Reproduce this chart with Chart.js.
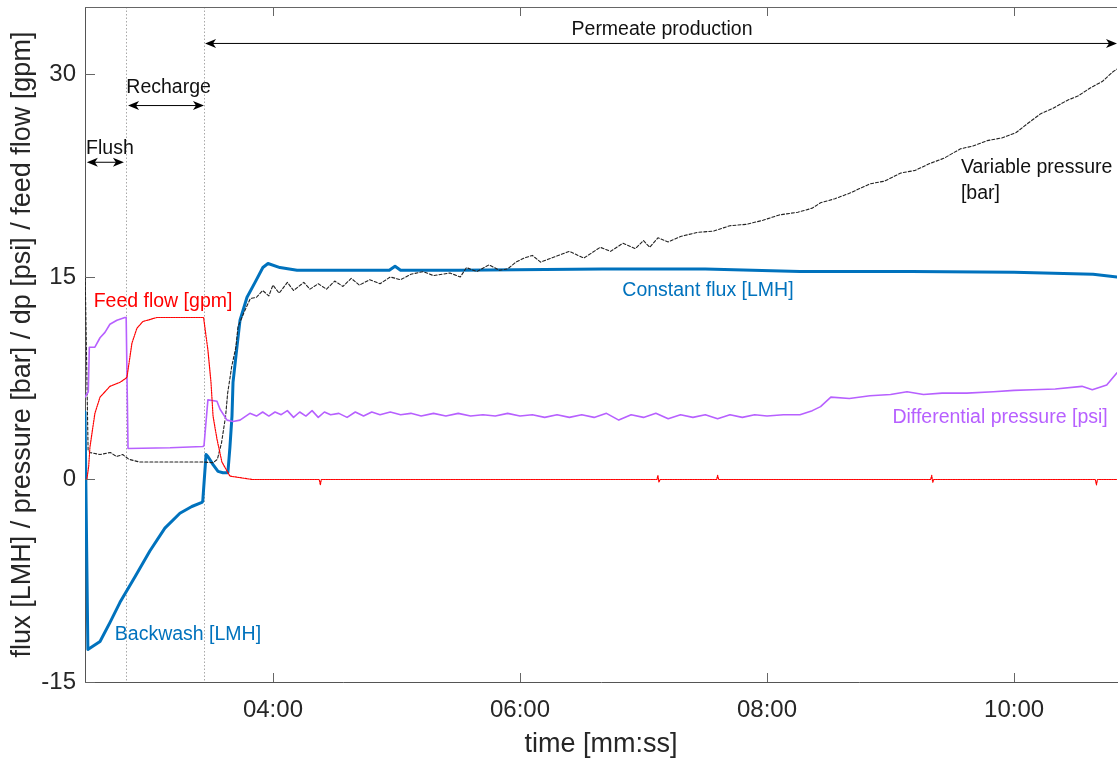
<!DOCTYPE html>
<html>
<head>
<meta charset="utf-8">
<script src="https://cdn.jsdelivr.net/npm/chart.js@4.4.1/dist/chart.umd.min.js"></script>
<style>
  html, body { margin: 0; padding: 0; background: #fff; }
  #wrap { width: 1120px; height: 759px; }
</style>
</head>
<body>
<div id="wrap"><canvas id="filterChart" width="1120" height="759"></canvas></div>
<script>
// time in seconds
const fluxTime = [148.7, 150.1, 156.0, 160.8, 165.7, 173.0, 180.2, 187.5, 194.8, 200.6, 205.5, 205.9, 207.5, 208.4, 210.9, 213.3, 215.7, 218.1, 219.1, 220.1, 220.6, 222.5, 224.0, 227.4, 231.3, 235.1, 237.6, 243.4, 251.7, 270, 296.5, 299.3, 302, 330, 400, 450, 496, 550, 600, 638.4, 650];
const fluxValue = [5.0, -12.6, -12.0, -10.6, -9.1, -7.2, -5.3, -3.6, -2.5, -2.0, -1.7, -1.6, 1.85, 1.7, 1.1, 0.6, 0.5, 0.5, 2.4, 4.7, 7.2, 9.8, 11.8, 13.5, 14.6, 15.7, 16.0, 15.7, 15.5, 15.5, 15.5, 15.8, 15.5, 15.5, 15.6, 15.6, 15.4, 15.4, 15.35, 15.2, 15.0];

const pressureTime = [148.8, 150.2, 151, 156, 161, 164, 167, 170, 175, 190, 205, 211, 213, 215, 217, 218, 220, 222, 223, 226, 229, 232, 235, 238, 240, 243, 247, 250, 255, 258, 262, 266, 270, 274, 278, 282, 287, 292, 297, 302, 307, 313, 318, 326, 331, 334, 339, 345, 350, 354, 358, 362, 366, 370, 377, 384, 391, 399, 404, 410, 416, 420, 423, 427, 432, 438, 446, 454, 462, 470, 478, 486, 495, 502, 506, 513, 520, 530, 537, 545, 552, 559, 566, 574, 580, 587, 594, 601, 606, 613, 619, 626, 631, 637, 643, 648, 650];
const pressureValue = [15.0, 2.2, 2.0, 1.85, 2.0, 1.7, 1.85, 1.5, 1.3, 1.3, 1.3, 1.25, 1.5, 2.7, 4.7, 6.4, 8.4, 9.8, 11.3, 12.4, 13.4, 13.5, 14.0, 13.6, 14.4, 13.8, 14.6, 14.0, 14.6, 14.1, 14.5, 14.1, 14.7, 14.3, 14.9, 14.4, 14.8, 14.5, 15.0, 14.8, 15.2, 15.4, 15.1, 15.3, 15.0, 15.7, 15.4, 15.9, 15.5, 15.6, 16.1, 16.4, 16.6, 16.1, 16.5, 16.9, 16.4, 17.2, 16.9, 17.5, 17.1, 17.7, 17.2, 17.9, 17.6, 18.0, 18.3, 18.4, 18.8, 18.9, 19.2, 19.6, 19.8, 20.1, 20.5, 20.8, 21.2, 21.9, 22.1, 22.7, 22.9, 23.4, 23.8, 24.5, 24.7, 25.1, 25.3, 25.7, 26.3, 27.1, 27.5, 28.1, 28.4, 29.0, 29.5, 30.2, 30.4];

const dpTime = [148.7, 150.3, 150.8, 153.5, 156.0, 158.4, 160.8, 164.2, 168.1, 168.7, 169.6, 190, 205.9, 206.5, 208.4, 212.8, 214.3, 217.7, 220.6, 224.0, 228.8, 232, 235, 238, 241, 244, 247, 250, 253, 256, 259, 262, 265, 268, 272, 276, 280, 284, 288, 292, 297, 302, 307, 312, 318, 324, 330, 336, 342, 348, 354, 360, 366, 372, 378, 384, 390, 396, 402, 408, 414, 420, 426, 432, 438, 444, 450, 456, 462, 468, 474, 480, 488, 496, 502, 506, 511, 520, 530, 540, 548, 556, 565, 577, 590, 600, 609, 620, 633, 638, 645, 650];
const dpValue = [6.1, 6.5, 9.8, 9.8, 10.5, 10.9, 11.5, 11.8, 12.0, 12.0, 2.3, 2.35, 2.45, 2.5, 5.9, 5.8, 5.2, 4.4, 4.3, 4.4, 4.9, 4.7, 5.0, 4.7, 5.0, 4.8, 5.1, 4.6, 5.0, 4.7, 5.1, 4.6, 5.0, 4.8, 4.9, 4.6, 5.0, 4.7, 5.0, 4.8, 5.0, 4.8, 4.9, 4.7, 4.9, 4.7, 4.9, 4.7, 4.8, 4.7, 4.9, 4.7, 4.8, 4.6, 4.8, 4.6, 4.8, 4.6, 4.9, 4.4, 4.8, 4.6, 4.9, 4.5, 4.8, 4.6, 4.8, 4.5, 4.8, 4.6, 4.8, 4.7, 4.8, 4.8, 5.1, 5.4, 6.1, 6.0, 6.2, 6.3, 6.5, 6.3, 6.4, 6.4, 6.5, 6.6, 6.65, 6.7, 6.9, 6.65, 7.0, 7.9];

const feedTime = [148.7, 149.6, 150.5, 151.1, 153.5, 156.0, 160.8, 165.7, 168.6, 169.1, 171.5, 173.9, 176.8, 183.6, 206.3, 208.4, 209.9, 210.9, 212.8, 215.2, 219.1, 230, 262.5, 263, 263.5, 426.5, 427, 427.5, 428, 455.5, 456, 456.5, 559.5, 560, 560.5, 561, 639.5, 640, 640.5, 650];
const feedValue = [0, 0, 1.0, 2.4, 4.9, 6.1, 6.9, 7.2, 7.5, 7.6, 10.1, 11.2, 11.7, 12.0, 12.0, 9.6, 7.2, 4.7, 3.0, 1.3, 0.25, 0, 0, -0.4, 0, 0, 0.3, -0.2, 0, 0, 0.3, 0, 0, 0.3, -0.2, 0, 0, -0.4, 0, 0];

const xTicks = [240, 360, 480, 600];
const yTicks = [-15, 0, 15, 30];
const phaseBounds = [168.6, 206.3];

const FONT = "'Liberation Sans', Arial, sans-serif";
const BLUE = '#0072BD';
const RED = '#FF0000';
const PURPLE = '#B760FF';

function pts(t, v) {
    return t.map((x, i) => ({ x: x, y: v[i] }));
}

function mmss(s) {
    const m = Math.floor(s / 60);
    const sec = Math.round(s - m * 60);
    return String(m).padStart(2, '0') + ':' + String(sec).padStart(2, '0');
}

function arrowHead(ctx, x, y, dir) {
    ctx.beginPath();
    ctx.moveTo(x, y);
    ctx.lineTo(x - dir * 11, y - 4.5);
    ctx.lineTo(x - dir * 8, y);
    ctx.lineTo(x - dir * 11, y + 4.5);
    ctx.closePath();
    ctx.fill();
}

function doubleArrow(ctx, x1, x2, y) {
    ctx.beginPath();
    ctx.moveTo(x1 + 3, y);
    ctx.lineTo(x2 - 3, y);
    ctx.stroke();
    arrowHead(ctx, x1, y, -1);
    arrowHead(ctx, x2, y, 1);
}

const decor = {
    id: 'decor',
    beforeDatasetsDraw(chart) {
        const { ctx, chartArea: a, scales: { x } } = chart;
        ctx.save();
        ctx.strokeStyle = '#a8a8a8';
        ctx.lineWidth = 1;
        ctx.setLineDash([1.5, 2]);
        phaseBounds.forEach(t => {
            const px = Math.round(x.getPixelForValue(t)) + 0.5;
            ctx.beginPath();
            ctx.moveTo(px, a.top);
            ctx.lineTo(px, a.bottom);
            ctx.stroke();
        });
        ctx.restore();
    },
    afterDatasetsDraw(chart) {
        const { ctx, chartArea: a, scales: { x, y } } = chart;
        ctx.save();

        // box top line and inward ticks
        ctx.strokeStyle = '#666';
        ctx.lineWidth = 1;
        ctx.beginPath();
        ctx.moveTo(a.left, a.top + 0.5);
        ctx.lineTo(a.right, a.top + 0.5);
        xTicks.forEach(t => {
            const px = Math.round(x.getPixelForValue(t)) + 0.5;
            ctx.moveTo(px, a.bottom);
            ctx.lineTo(px, a.bottom - 9);
            ctx.moveTo(px, a.top);
            ctx.lineTo(px, a.top + 9);
        });
        yTicks.forEach(v => {
            const py = Math.round(y.getPixelForValue(v)) + 0.5;
            ctx.moveTo(a.left, py);
            ctx.lineTo(a.left + 10, py);
        });
        ctx.stroke();

        // phase arrows
        ctx.strokeStyle = '#000';
        ctx.fillStyle = '#000';
        doubleArrow(ctx, x.getPixelForValue(149.6), x.getPixelForValue(167.6), y.getPixelForValue(23.5));
        doubleArrow(ctx, x.getPixelForValue(169.6), x.getPixelForValue(206.5), y.getPixelForValue(27.7));
        doubleArrow(ctx, x.getPixelForValue(207.0), a.right, y.getPixelForValue(32.3));

        // text labels
        ctx.font = '19.5px ' + FONT;
        ctx.textBaseline = 'middle';
        ctx.textAlign = 'center';
        const label = (txt, t, v, color) => {
            ctx.fillStyle = color;
            ctx.fillText(txt, x.getPixelForValue(t), y.getPixelForValue(v));
        };
        label('Permeate production', 429.0, 33.3, '#111');
        label('Recharge', 189.3, 29.0, '#111');
        label('Flush', 160.8, 24.5, '#111');
        label('Feed flow [gpm]', 186.6, 13.2, RED);
        label('Constant flux [LMH]', 451.3, 14.0, BLUE);
        label('Differential pressure [psi]', 593.2, 4.6, PURPLE);
        label('Backwash [LMH]', 198.7, -11.5, BLUE);
        ctx.textAlign = 'left';
        label('Variable pressure', 574.2, 23.1, '#111');
        label('[bar]', 574.2, 21.2, '#111');

        ctx.restore();
    }
};

window.addEventListener('load', function () {
    const ctx = document.getElementById('filterChart').getContext('2d');
    new Chart(ctx, {
        type: 'line',
        data: {
            datasets: [
                {
                    label: 'Feed flow [gpm]',
                    data: pts(feedTime, feedValue),
                    borderColor: RED,
                    borderWidth: 1.2,
                    borderDash: [1.5, 1]
                },
                {
                    label: 'Differential pressure [psi]',
                    data: pts(dpTime, dpValue),
                    borderColor: PURPLE,
                    borderWidth: 1.6
                },
                {
                    label: 'Variable pressure [bar]',
                    data: pts(pressureTime, pressureValue),
                    borderColor: '#222',
                    borderWidth: 1.1,
                    borderDash: [3, 2]
                },
                {
                    label: 'Flux [LMH]',
                    data: pts(fluxTime, fluxValue),
                    borderColor: BLUE,
                    borderWidth: 3
                }
            ]
        },
        options: {
            responsive: false,
            animation: false,
            devicePixelRatio: 1,
            elements: {
                point: { radius: 0 },
                line: { tension: 0, fill: false, borderCapStyle: 'round', borderJoinStyle: 'round' }
            },
            layout: { padding: { top: 7, right: 3, left: 0, bottom: 0 } },
            plugins: {
                legend: { display: false },
                tooltip: { enabled: false }
            },
            scales: {
                x: {
                    type: 'linear',
                    min: 148.7,
                    max: 650,
                    afterBuildTicks: s => { s.ticks = xTicks.map(v => ({ value: v })); },
                    afterFit: s => { s.height = 77; s.paddingLeft = 0; s.paddingRight = 0; },
                    grid: { display: false, drawTicks: false },
                    border: { display: true, color: '#555', width: 1 },
                    ticks: {
                        callback: v => mmss(v),
                        color: '#262626',
                        font: { family: FONT, size: 24 },
                        padding: 14,
                        maxRotation: 0,
                        autoSkip: false
                    },
                    title: {
                        display: true,
                        text: 'time [mm:ss]',
                        color: '#262626',
                        font: { family: FONT, size: 27, lineHeight: 1.05 },
                        padding: { top: 0, bottom: 0 }
                    }
                },
                y: {
                    type: 'linear',
                    min: -15,
                    max: 35,
                    afterBuildTicks: s => { s.ticks = yTicks.map(v => ({ value: v })); },
                    afterFit: s => { s.width = 85; s.paddingTop = 0; s.paddingBottom = 0; },
                    grid: { display: false, drawTicks: false },
                    border: { display: true, color: '#555', width: 1 },
                    ticks: {
                        color: '#262626',
                        font: { family: FONT, size: 24 },
                        padding: 9
                    },
                    title: {
                        display: true,
                        text: 'flux [LMH] / pressure [bar] / dp [psi] / feed flow [gpm]',
                        color: '#262626',
                        font: { family: FONT, size: 27 },
                        padding: { top: 6, bottom: 0 }
                    }
                }
            }
        },
        plugins: [decor]
    });
});
</script>
</body>
</html>
